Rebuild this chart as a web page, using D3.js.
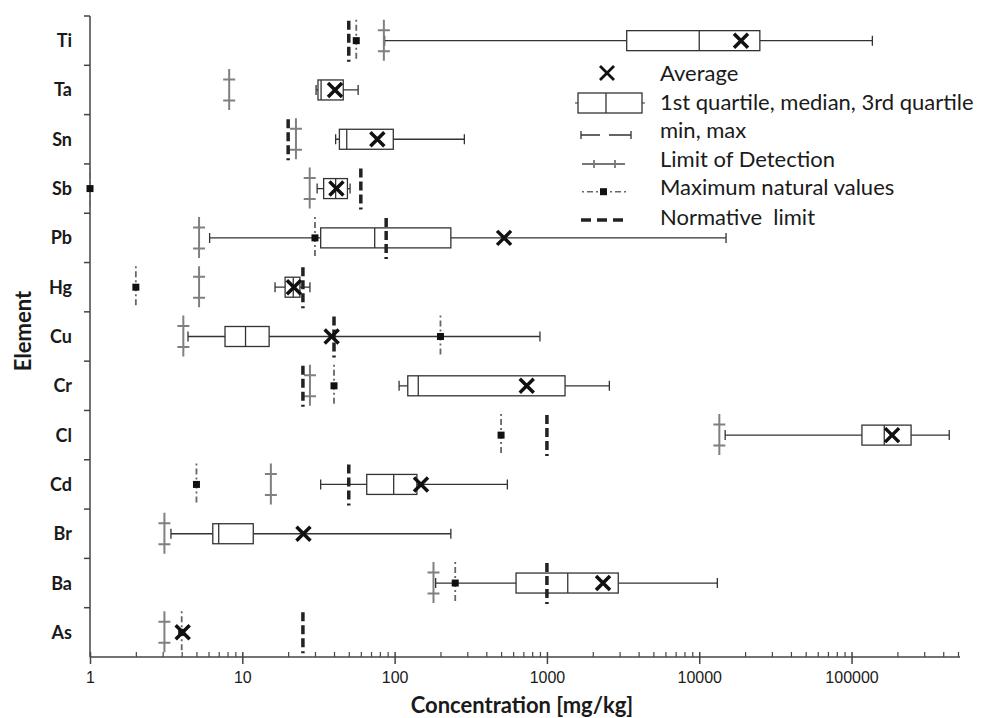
<!DOCTYPE html>
<html>
<head>
<meta charset="utf-8">
<script src="https://cdn.jsdelivr.net/npm/d3@7"></script>
<style>
  body { margin: 0; background: #fff; }
  svg { font-family: Lato, "Open Sans", sans-serif; }
  .cat text { font-weight: bold; font-size: 18px; fill: #1a1a1a; }
  .xaxis text { font-size: 16px; fill: #1a1a1a; }
  .legend text { font-size: 22px; fill: #1a1a1a; white-space: pre; }
  .title { font-weight: bold; font-size: 22px; fill: #1a1a1a; }
</style>
</head>
<body>
<svg id="chart"></svg>
<script>
// elements from top to bottom
let elements = ["Ti", "Ta", "Sn", "Sb", "Pb", "Hg", "Cu", "Cr", "Cl", "Cd", "Br", "Ba", "As"];

// box plot statistics in mg/kg (null = not shown)
let minVals  = [86, 30.5, 41, 31, 6.1, 16.4, 4.4, 107, 14800, 32.7, 3.4, 186, null];
let q1Vals   = [3340, 31.4, 43.4, 34.2, 32.7, 19.1, 7.7, 122, 117000, 65.6, 6.4, 627, null];
let medVals  = [10000, 32.9, 48.5, 41, 74, 21.6, 10.5, 143, 164000, 98.6, 7.0, 1370, null];
let q3Vals   = [25000, 46, 98, 49, 234, 23.9, 15, 1315, 246000, 140, 11.8, 2940, null];
let maxVals  = [137000, 57.6, 287, 51, 15000, 27.8, 900, 2570, 438000, 550, 234, 13150, null];
let avgVals  = [18800, 40.6, 77, 41.5, 523, 21.8, 38.6, 737, 184500, 149, 25.2, 2335, 4.06];

// reference values
let lodVals      = [85, 8.2, 22.5, 27.7, 5.2, 5.2, 4.1, 27.8, 13550, 15.4, 3.08, 180, 3.08];
let naturalVals  = [56, null, null, 1, 30, 2, 200, 40, 500, 5, null, 250, 4];
let normVals     = [50, null, 20, 60, 88, 25, 40, 25, 1000, 50, null, 1000, 25];

let majorTicks = [1, 10, 100, 1000, 10000, 100000];
let legendLabels = ["Average", "1st quartile, median, 3rd quartile", "min, max",
  "Limit of Detection", "Maximum natural values", "Normative  limit"];

let width = 991;
let height = 718;

let svg = d3.select("#chart").attr("width", width).attr("height", height);

let x = d3.scaleLog().domain([1, 500000]).range([90, 958]);
let y = d3.scaleBand().domain(elements).range([16, 657]);

// minor ticks 2..9 per decade
let minorTicks = [];
for (let d = 1; d <= 100000; d *= 10) {
  for (let k = 2; k <= 9; k++) {
    if (d * k <= 500000) minorTicks.push(d * k);
  }
}

let axisColor = "#444";

// x axis minor ticks (upward only)
let xMinor = svg.append("g").attr("transform", translate(0, 657))
  .call(d3.axisBottom(x).tickValues(minorTicks).tickSize(-5).tickFormat(""));
xMinor.select(".domain").remove();
xMinor.selectAll("line").attr("stroke", axisColor).attr("stroke-width", 1.2);

// x axis major ticks crossing the line
let xAxis = svg.append("g").attr("class", "xaxis").attr("transform", translate(0, 657))
  .call(d3.axisBottom(x).tickValues(majorTicks).tickFormat(d3.format("d")).tickSize(7).tickPadding(8).tickSizeOuter(0));
xAxis.select(".domain").attr("stroke", axisColor).attr("stroke-width", 1.5)
  .attr("d", "M" + x.range()[0] + ",0H960");
xAxis.selectAll(".tick line").attr("stroke", axisColor).attr("stroke-width", 1.5).attr("y1", -5);
xAxis.selectAll(".tick text").attr("font-family", null);

// y axis: category labels and ticks at band boundaries
let yAxis = svg.append("g").attr("class", "cat");
yAxis.append("line")
  .attr("x1", 90).attr("x2", 90).attr("y1", 16).attr("y2", 657)
  .attr("stroke", axisColor).attr("stroke-width", 1.5);
yAxis.selectAll("line.tick").data(elements).enter().append("line")
  .attr("class", "tick")
  .attr("x1", 84).attr("x2", 90)
  .attr("y1", d => y(d)).attr("y2", d => y(d))
  .attr("stroke", axisColor).attr("stroke-width", 1.5);
yAxis.selectAll("text").data(elements).enter().append("text")
  .attr("x", 72).attr("y", d => y(d) + y.bandwidth() / 2 + 6.5)
  .attr("text-anchor", "end")
  .text(d => d);

// axis titles
svg.append("text").attr("class", "title")
  .attr("x", 522).attr("y", 713).attr("text-anchor", "middle")
  .text("Concentration [mg/kg]");
svg.append("text").attr("class", "title")
  .attr("transform", "translate(31,331) rotate(-90)").attr("text-anchor", "middle")
  .text("Element");

let plot = svg.append("g");

let rows = elements.map(function(e, i) {
  return {
    name: e, cy: y(e) + y.bandwidth() / 2,
    min: minVals[i], q1: q1Vals[i], med: medVals[i], q3: q3Vals[i], max: maxVals[i],
    avg: avgVals[i], lod: lodVals[i], natural: naturalVals[i], norm: normVals[i]
  };
});

// whiskers and boxes
let boxRows = rows.filter(r => r.min !== null);
let boxStroke = "#333";
drawWhisker(plot, boxRows.map(r => ({ x1: x(r.min), x2: x(r.max), cy: r.cy })));
boxRows.forEach(function(r) {
  drawBox(plot, x(r.q1), x(r.med), x(r.q3), r.cy);
});

// limit of detection
rows.filter(r => r.lod !== null).forEach(function(r) {
  drawLod(plot, x(r.lod), r.cy);
});

// maximum natural values
rows.filter(r => r.natural !== null).forEach(function(r) {
  drawNatural(plot, x(r.natural), r.cy);
});

// normative limit
rows.filter(r => r.norm !== null).forEach(function(r) {
  plot.append("line")
    .attr("x1", x(r.norm)).attr("x2", x(r.norm))
    .attr("y1", r.cy - 20).attr("y2", r.cy + 21)
    .attr("stroke", "#222").attr("stroke-width", 3.5)
    .attr("stroke-dasharray", "9,4");
});

// averages
rows.forEach(function(r) {
  drawCross(plot, x(r.avg), r.cy, 7, 3.5);
});

// legend
let legend = svg.append("g").attr("class", "legend");
let baselines = [80.7, 110, 137.7, 167.3, 195, 225];
legend.selectAll("text").data(legendLabels).enter().append("text")
  .attr("x", 660).attr("y", (d, i) => baselines[i])
  .text(d => d);

drawCross(legend, 607, 73, 7, 2.8);
legend.append("line").attr("x1", 575).attr("x2", 645).attr("y1", 103).attr("y2", 103)
  .attr("stroke", boxStroke).attr("stroke-width", 1.2);
drawBox(legend, 578, 606, 642, 103);
// min, max symbol
legend.append("path")
  .attr("d", "M581,131V139M581,135H600M609,135H631M631,131V139")
  .attr("fill", "none").attr("stroke", boxStroke).attr("stroke-width", 1.3);
// limit of detection symbol
legend.append("path")
  .attr("d", "M582,164H625M594,160V168M615,160V168")
  .attr("fill", "none").attr("stroke", "#777").attr("stroke-width", 1.8);
// maximum natural symbol
legend.append("line").attr("x1", 582).attr("x2", 627).attr("y1", 191.7).attr("y2", 191.7)
  .attr("stroke", "#666").attr("stroke-width", 1.6).attr("stroke-dasharray", "2,3,6,3");
legend.append("rect").attr("x", 600).attr("y", 188.2).attr("width", 7).attr("height", 7).attr("fill", "#111");
// normative symbol
legend.append("line").attr("x1", 581).attr("x2", 623).attr("y1", 220).attr("y2", 220)
  .attr("stroke", "#222").attr("stroke-width", 3.5).attr("stroke-dasharray", "10,6");

function drawWhisker(g, data) {
  g.selectAll("path.whisker").data(data).enter().append("path")
    .attr("class", "whisker")
    .attr("d", d => "M" + d.x1 + "," + (d.cy - 5) + "V" + (d.cy + 5) +
      "M" + d.x1 + "," + d.cy + "H" + d.x2 +
      "M" + d.x2 + "," + (d.cy - 5) + "V" + (d.cy + 5))
    .attr("fill", "none").attr("stroke", boxStroke).attr("stroke-width", 1.3);
}

function drawBox(g, xq1, xmed, xq3, cy) {
  g.append("rect")
    .attr("x", xq1).attr("y", cy - 10)
    .attr("width", xq3 - xq1).attr("height", 20)
    .attr("fill", "#fff").attr("stroke", boxStroke).attr("stroke-width", 1.3);
  g.append("line")
    .attr("x1", xmed).attr("x2", xmed).attr("y1", cy - 10).attr("y2", cy + 10)
    .attr("stroke", boxStroke).attr("stroke-width", 1.3);
}

function drawLod(g, px, cy) {
  g.append("path")
    .attr("d", "M" + px + "," + (cy - 21) + "V" + (cy + 20) +
      "M" + (px - 6) + "," + (cy - 10.5) + "H" + (px + 6) +
      "M" + (px - 6) + "," + (cy + 10.5) + "H" + (px + 6))
    .attr("fill", "none").attr("stroke", "#808080").attr("stroke-width", 2);
}

function drawNatural(g, px, cy) {
  g.append("line")
    .attr("x1", px).attr("x2", px).attr("y1", cy - 21).attr("y2", cy + 21)
    .attr("stroke", "#666").attr("stroke-width", 1.8)
    .attr("stroke-dasharray", "2,3,6,3");
  g.append("rect")
    .attr("x", px - 3.5).attr("y", cy - 3.5).attr("width", 7).attr("height", 7)
    .attr("fill", "#111");
}

function drawCross(g, px, cy, r, w) {
  g.append("path")
    .attr("d", "M" + (px - r) + "," + (cy - r) + "L" + (px + r) + "," + (cy + r) +
      "M" + (px - r) + "," + (cy + r) + "L" + (px + r) + "," + (cy - r))
    .attr("fill", "none").attr("stroke", "#111").attr("stroke-width", w);
}

function translate(x, y) {
  return "translate(" + String(x) + "," + String(y) + ")";
}
</script>
</body>
</html>
